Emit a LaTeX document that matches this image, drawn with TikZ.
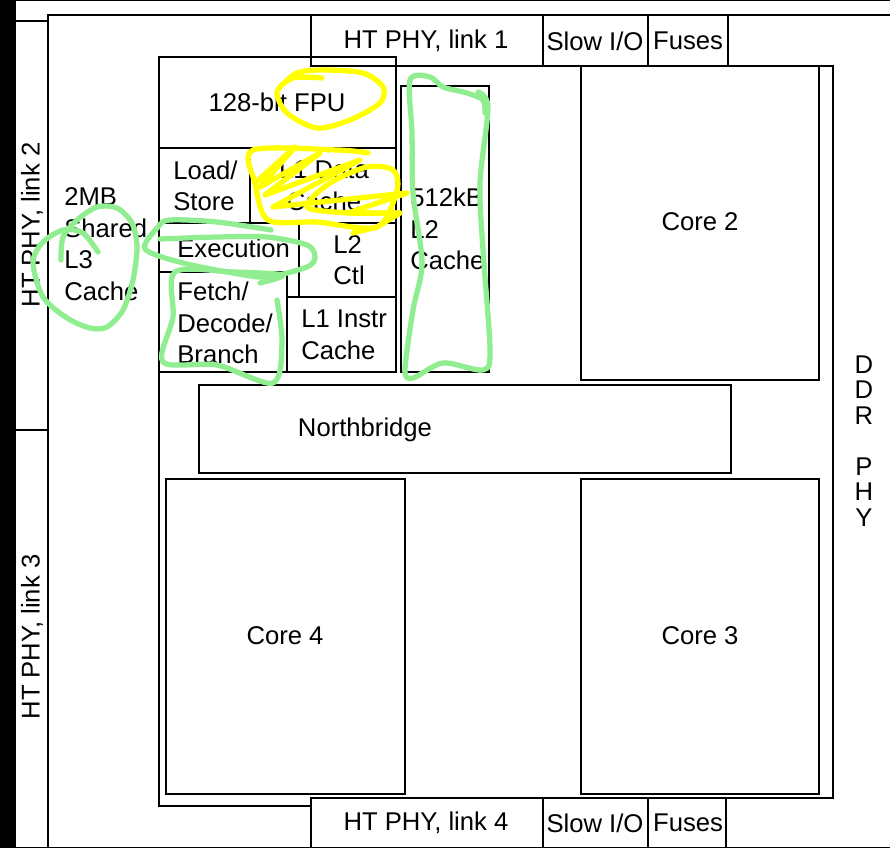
\documentclass[tikz,border=0pt]{standalone}
\usepackage{fontspec}
\setmainfont{Liberation Sans}
\usepackage{xcolor}
\usepackage{tikz}
\definecolor{MarkGreen}{HTML}{90EE90}
\definecolor{MarkYellow}{HTML}{FFFF00}

\begin{document}
\begin{tikzpicture}[
    x=0.02cm, y=-0.02cm,
    blk/.style={draw=black, line width=0.85pt},
    lbl/.style={font=\fontsize{14.6}{18}\selectfont, inner sep=0pt, align=center},
    lft/.style={font=\fontsize{14.6}{18}\selectfont, inner sep=0pt, align=left, anchor=west},
    greenmark/.style={MarkGreen, line width=3pt, line cap=round, line join=round},
    yellowmark/.style={MarkYellow, line width=3pt, line cap=round, line join=round}
]
\useasboundingbox (0,0) rectangle (890,848);
\fill[white] (0,0) rectangle (890,848);

% Screen edges
\fill[black] (0,0) rectangle (16,848);
\fill[black] (16,0) rectangle (890,1);
\fill[black] (16,847) rectangle (890,848);

% Die frame
\draw[blk] (890,15) -- (48,15) -- (48,848);
\draw[blk] (16,21) -- (48,21);
\draw[blk] (16,430) -- (48,430);
\draw[blk] (396,66) -- (833,66) -- (833,798) -- (311,798);
\draw[blk] (311,806) -- (159,806) -- (159,57);

% Top edge: width follows the text
\draw[blk] (311,15) rectangle (543,66);
\draw[blk] (543,15) rectangle (648,66);
\draw[blk] (648,15) rectangle (728,66);
\node[lbl] (linkone) at (426,41) {HT PHY, link 1};
\node[lbl] (slowtop) at (595,41) {Slow I/O};
\node[lbl] (fusestop) at (688,41) {Fuses};

% Bottom edge
\draw[blk] (311,798) rectangle (543,848);
\draw[blk] (543,798) rectangle (648,848);
\draw[blk] (648,798) rectangle (726,848);
\node[lbl] (linkfour) at (426,823) {HT PHY, link 4};
\node[lbl] (slowbot) at (595,823) {Slow I/O};
\node[lbl] (fusesbot) at (688,823) {Fuses};

% Left and right edge
\node[lbl, rotate=90] (linktwo) at (32,225) {HT PHY, link 2};
\node[lbl, rotate=90] (linkthree) at (32,637) {HT PHY, link 3};
\node[lft] (lthree) at (64,244) {2MB\\Shared\\L3\\Cache};
\node[font=\fontsize{14.6}{14.5}\selectfont, inner sep=0pt, align=center] (ddr) at (864,441) {D\\D\\R\\[14.5pt]P\\H\\Y};

% Core 1
\draw[blk] (159,57) rectangle (396,148);
\draw[blk] (159,148) rectangle (250,223);
\draw[blk] (250,148) rectangle (396,223);
\draw[blk] (159,223) rectangle (299,272);
\draw[blk] (299,223) rectangle (396,297);
\draw[blk] (159,272) rectangle (287,372);
\draw[blk] (287,297) rectangle (396,372);
\draw[blk] (401,86) rectangle (489,372);
\node[lbl] (fpu) at (277,102) {128-bit FPU};
\node[lft] (loadstore) at (173,186) {Load/\\Store};
\node[lbl] (dcache) at (324,186) {L1 Data\\Cache};
\node[lft] (execution) at (177,248) {Execution};
\node[lft] (ltwoctl) at (333,260) {L2\\Ctl};
\node[lft] (fetch) at (177,323) {Fetch/\\Decode/\\Branch};
\node[lft] (icache) at (301,335) {L1 Instr\\Cache};
\node[lft] (ltwo) at (410,229) {512kB\\L2\\Cache};

% Northbridge and other cores
\draw[blk] (199,385) rectangle (731,473);
\draw[blk] (581,66) rectangle (819,380);
\draw[blk] (581,479) rectangle (819,794);
\draw[blk] (166,479) rectangle (405,794);
\node[lbl] (nb) at (365,430) {Northbridge};
\node[lbl] (coretwo) at (700,222) {Core 2};
\node[lbl] (corethree) at (700,636) {Core 3};
\node[lbl] (corefour) at (285,636) {Core 4};

% Green marks
\draw[greenmark] plot[smooth] coordinates {(61,260) (63,237) (77,220) (97,207) (117,208) (132,223) (137,247) (133,280) (123,310) (107,327) (90,328) (67,318) (43,297) (33,263) (42,243) (63,230) (83,233) (98,252)};
\draw[greenmark] plot[smooth] coordinates {(271,230) (217,222) (170,220) (158,227) (145,249) (183,263) (233,273) (267,277) (307,267) (315,257) (307,245) (267,237) (217,237) (160,239)};
\draw[greenmark] plot[smooth] coordinates {(260,283) (283,275) (233,272) (175,272) (173,317) (163,362) (217,365) (273,383) (282,343) (277,300)};
\draw[greenmark] plot[smooth] coordinates {(485,113) (483,100) (467,93) (443,87) (430,77) (410,80) (412,133) (413,193) (422,263) (413,310) (405,370) (413,378) (443,363) (483,370) (490,350) (483,250) (480,183) (488,107) (478,92)};

% Yellow marks
\draw[yellowmark] plot[smooth] coordinates {(322,78) (293,78) (277,92) (287,113) (317,128) (350,120) (380,103) (383,87) (363,73) (323,70) (297,73) (280,87)};
\draw[yellowmark] plot[smooth] coordinates {(368,153) (337,150) (253,150) (255,183) (268,220) (317,222) (377,227) (397,190) (393,170) (367,167) (330,183) (307,207) (350,213) (400,213)};
\draw[yellowmark] (255,183) -- (295,147) -- (260,187) -- (320,153) -- (265,195) -- (360,160) -- (273,207) -- (407,193) -- (348,213) -- (400,213) -- (377,227) -- (353,233);
\end{tikzpicture}
\end{document}
